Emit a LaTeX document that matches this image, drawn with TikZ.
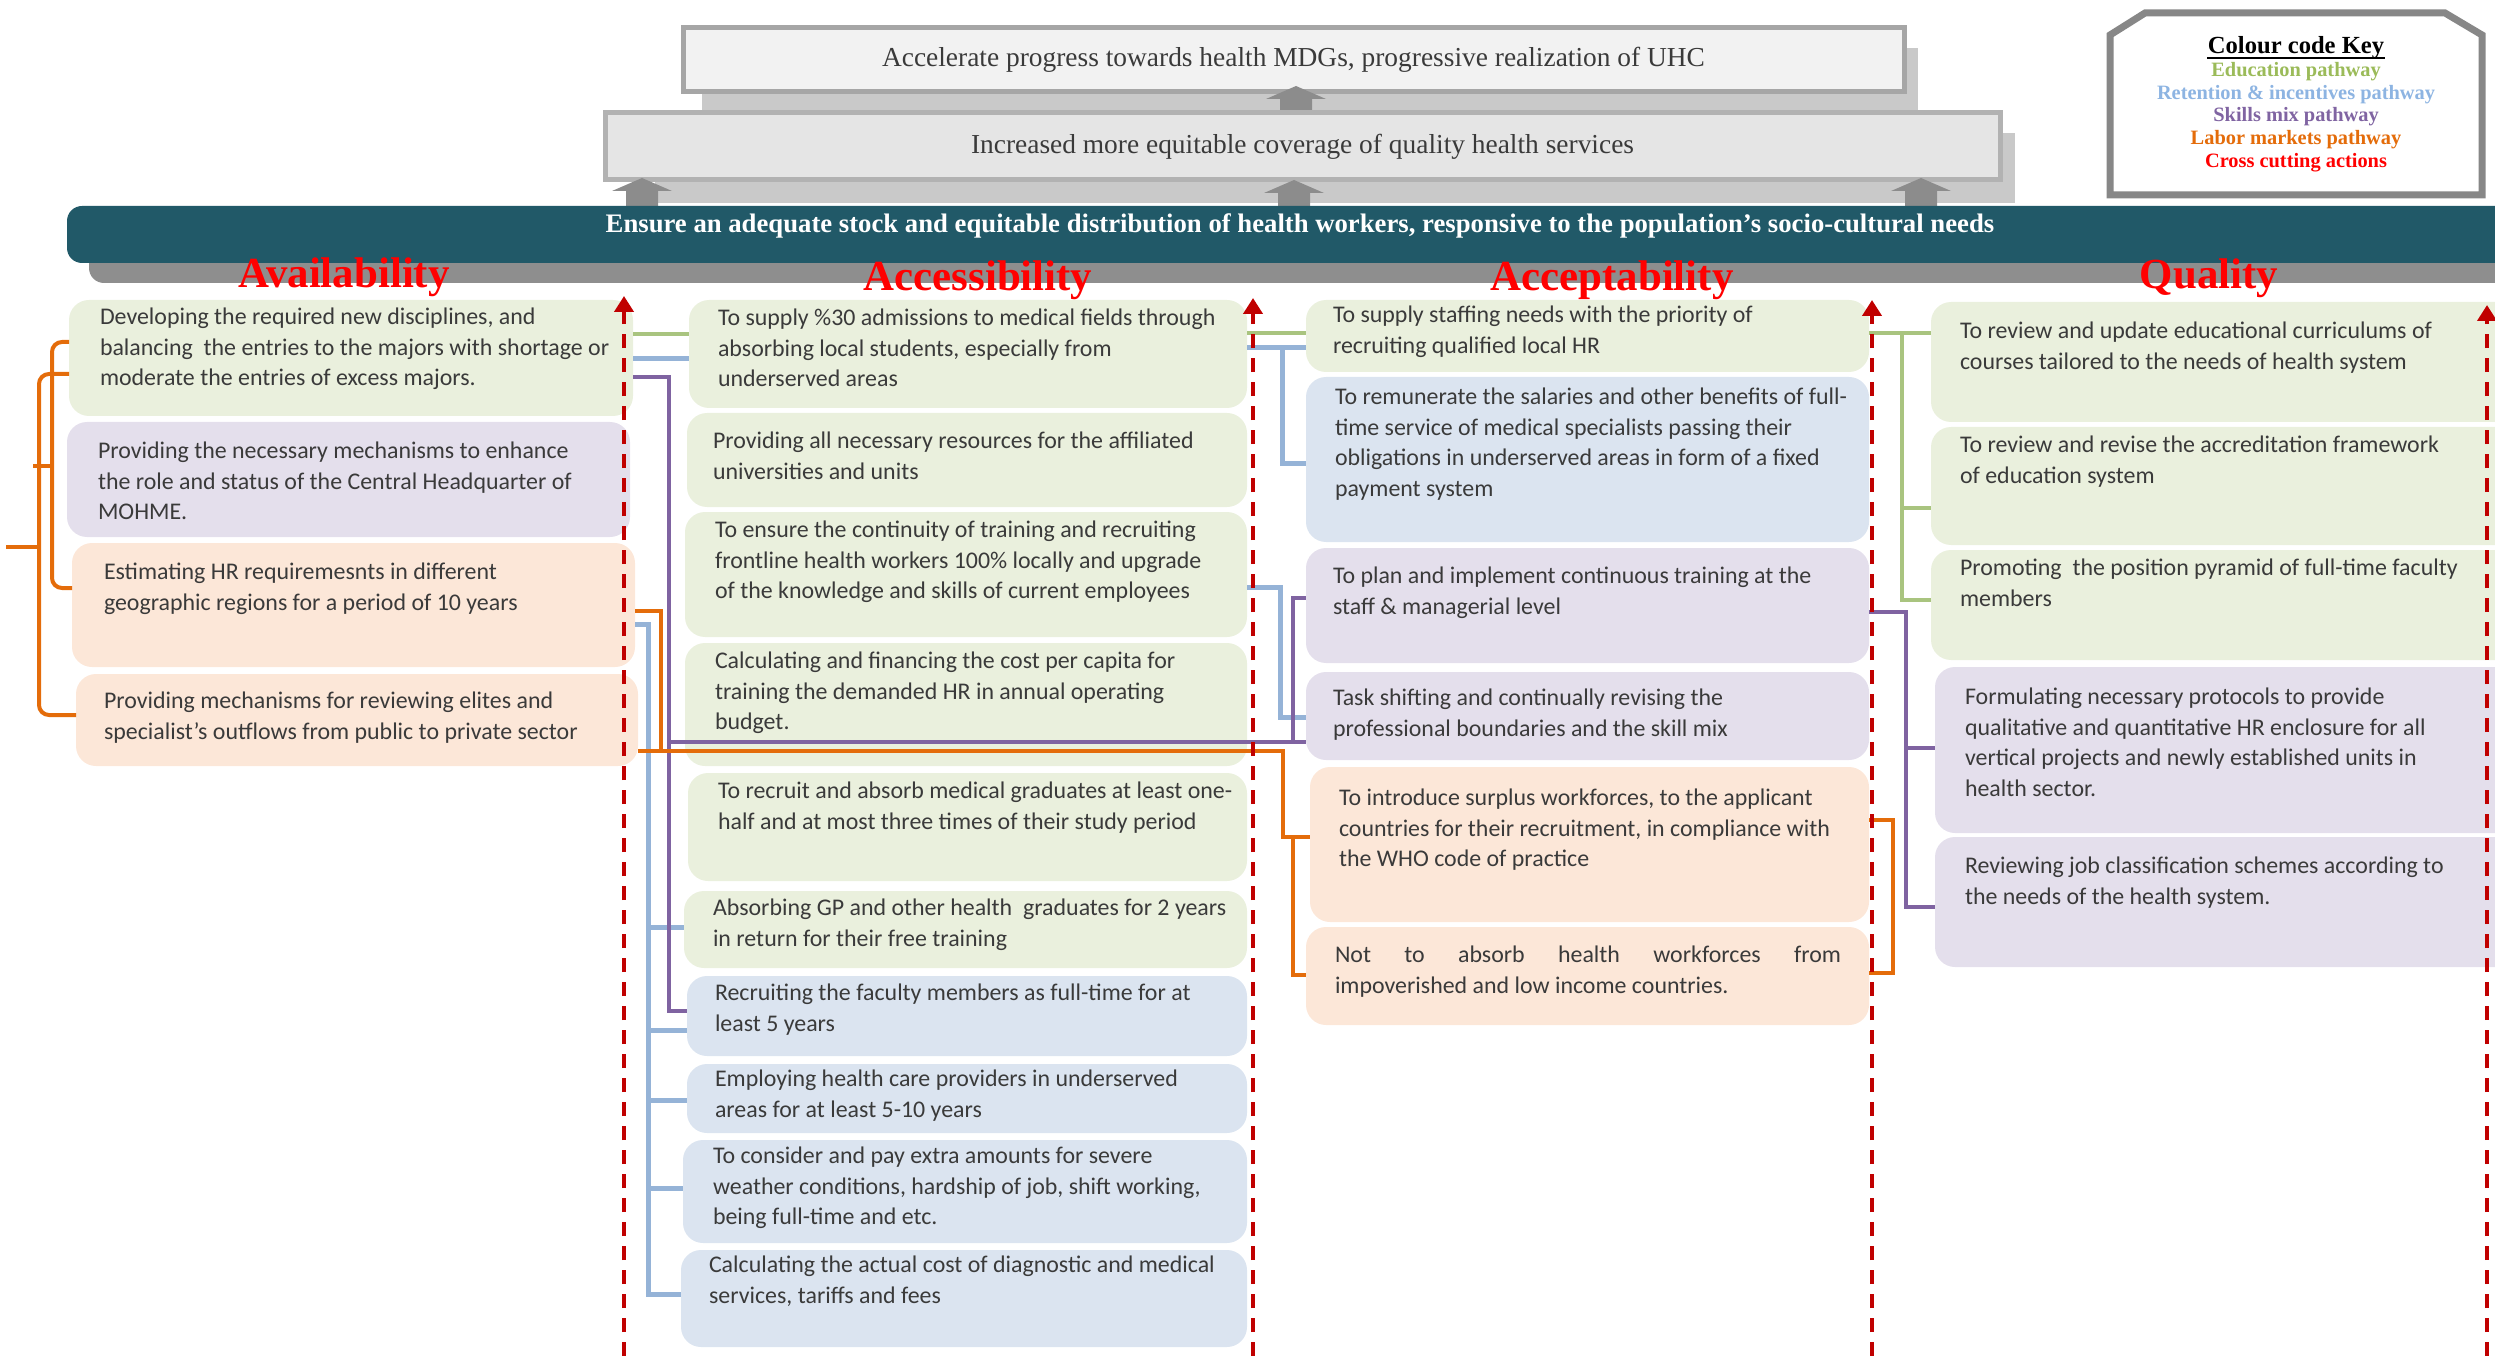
\documentclass[tikz,border=0pt]{standalone}
\usepackage{fontspec}
\setmainfont{Carlito}
\newfontfamily\srf{Liberation Serif}
\usetikzlibrary{arrows.meta}
\definecolor{tealband}{HTML}{215968}
\definecolor{bandshadow}{HTML}{8E8E8E}
\definecolor{panelc}{HTML}{C9C9C9}
\definecolor{arrowc}{HTML}{8C8C8C}
\definecolor{gfill}{HTML}{EAF0DD}
\definecolor{pfill}{HTML}{E4DFEC}
\definecolor{ofill}{HTML}{FCE7D8}
\definecolor{bfill}{HTML}{DBE4F0}
\definecolor{glinec}{HTML}{A9C47F}
\definecolor{blinec}{HTML}{95B3D7}
\definecolor{plinec}{HTML}{7F63A1}
\definecolor{olinec}{HTML}{E46C0A}
\definecolor{redd}{HTML}{C00000}
\definecolor{txtc}{HTML}{3A3A3A}
\definecolor{keyg}{HTML}{9BBB59}
\definecolor{keyb}{HTML}{8DB4E2}
\definecolor{keyp}{HTML}{8064A2}
\definecolor{keyo}{HTML}{E46C0A}
\tikzset{
  bx/.style={rectangle,rounded corners=2mm,inner sep=0pt,outer sep=0pt,anchor=north west,draw=none},
  tx/.style={anchor=north west,inner sep=0pt,outer sep=0pt,align=left,text=txtc,font=\fontsize{6.8}{8.73}\selectfont},
  con/.style={line width=0.4mm},
  gcon/.style={con,draw=glinec},
  bcon/.style={con,draw=blinec,line width=0.5mm},
  pcon/.style={con,draw=plinec},
  ocon/.style={con,draw=olinec},
  reddash/.style={draw=redd,line width=0.4mm,dash pattern=on 1.4mm off 1mm,-{Triangle[width=1.9mm,length=1.6mm]}},
  hdr/.style={text=red,font=\srf\bfseries\fontsize{12.2}{14}\selectfont,inner sep=0pt},
  keyt/.style={anchor=base,inner sep=0pt,font=\srf\bfseries\fontsize{5.8}{7}\selectfont},
  goalbox/.style={rectangle,anchor=north west,inner sep=0pt,outer sep=0pt,line width=0.5mm,text=txtc,font=\srf\fontsize{7.8}{9}\selectfont},
}
\newcommand\mybox[6]{\node[bx,fill=#6,minimum width={(#4-#2)*0.1mm},minimum height={(#5-#3)*0.1mm}] (#1) at (#2,#3) {};}
\newcommand\mytext[4]{\node[tx] (#1) at (#2,{#3-15.6}) {\rule{0pt}{6pt}#4};}
\newcommand\garr[3]{\fill[arrowc] (#1-16,#2) -- (#1-16,#3+13) -- (#1-30,#3+13) -- (#1,#3) -- (#1+30,#3+13) -- (#1+16,#3+13) -- (#1+16,#2) -- cycle;}
\begin{document}
\begin{tikzpicture}[x=0.1mm,y=-0.1mm]
\useasboundingbox (0,0) rectangle (2495,1356);
% ---------- top goals
\fill[panelc] (702,48) rectangle (1918,110);
\node[goalbox,fill=black!5,draw=black!35,minimum width=122.1mm,minimum height=6.4mm] (G1) at (683,28) {Accelerate progress towards health MDGs, progressive realization of UHC};
\fill[panelc] (655,133) rectangle (2015,203);
\garr{1296}{117}{86}
\node[goalbox,fill=black!10,draw=black!30,minimum width=139.5mm,minimum height=6.7mm] (G2) at (605,113) {Increased more equitable coverage of quality health services};
\garr{642}{206}{178}
\garr{1294}{206}{180}
\garr{1921}{206}{178}
% ---------- band
\fill[bandshadow,rounded corners=1.5mm] (89,250) rectangle (2530,283);
\node[bx,fill=tealband,rounded corners=1.5mm,minimum width=246.3mm,minimum height=5.7mm] (band) at (67,206) {};
\node[text=white,inner sep=0pt,font=\srf\bfseries\fontsize{7.6}{8}\selectfont] (bandt) at (1300,226) {Ensure an adequate stock and equitable distribution of health workers, responsive to the population’s socio-cultural needs};
% ---------- headers
\node[hdr] (h1) at (344,277) {Availability};
\node[hdr] (h2) at (978,280) {Accessibility};
\node[hdr] (h3) at (1612,280) {Acceptability};
\node[hdr] (h4) at (2209,278) {Quality};
% ---------- legend
\draw[draw=black!47,line width=0.7mm,fill=white] (2110,195) -- (2110,35) -- (2145,13) -- (2445,13) -- (2482,35) -- (2482,195) -- cycle;
\node[keyt,font=\srf\bfseries\fontsize{7}{8}\selectfont] (k0) at (2296,54) {Colour code Key};
\draw[line width=0.2mm] ([yshift=-0.45mm]k0.base west) -- ([yshift=-0.45mm]k0.base east);
\node[keyt,text=keyg] (k1) at (2296,77) {Education pathway};
\node[keyt,text=keyb] (k2) at (2296,100) {Retention \& incentives pathway};
\node[keyt,text=keyp] (k3) at (2296,122) {Skills mix pathway};
\node[keyt,text=keyo] (k4) at (2296,145) {Labor markets pathway};
\node[keyt,text=red] (k5) at (2296,168) {Cross cutting actions};
% ---------- boxes
\mybox{A1}{69}{300}{633}{416}{gfill}
\mybox{A2}{67}{422}{630}{537}{pfill}
\mybox{A3}{72}{543}{635}{667}{ofill}
\mybox{A4}{76}{674}{638}{766}{ofill}
\mybox{B1}{689}{300}{1247}{408}{gfill}
\mybox{B2}{687}{413}{1247}{507}{gfill}
\mybox{B3}{685}{512}{1247}{637}{gfill}
\mybox{B4}{685}{643}{1247}{766}{gfill}
\mybox{B5}{688}{773}{1247}{881}{gfill}
\mybox{B6}{684}{891}{1247}{968}{gfill}
\mybox{B7}{687}{976}{1247}{1056}{bfill}
\mybox{B8}{687}{1064}{1247}{1133}{bfill}
\mybox{B9}{683}{1140}{1247}{1243}{bfill}
\mybox{B10}{681}{1250}{1247}{1347}{bfill}
\mybox{C1}{1306}{300}{1869}{372}{gfill}
\mybox{C2}{1306}{377}{1869}{542}{bfill}
\mybox{C3}{1306}{548}{1869}{663}{pfill}
\mybox{C4}{1306}{672}{1869}{760}{pfill}
\mybox{C5}{1310}{767}{1869}{922}{ofill}
\mybox{C6}{1306}{927}{1869}{1025}{ofill}
\mybox{D1}{1931}{302}{2520}{422}{gfill}
\mybox{D2}{1931}{427}{2520}{545}{gfill}
\mybox{D3}{1931}{550}{2520}{660}{gfill}
\mybox{D4}{1935}{667}{2520}{833}{pfill}
\mybox{D5}{1935}{837}{2520}{967}{pfill}
% ---------- texts
\mytext{tA1}{100}{319}{Developing the required new disciplines, and\\balancing\ \ the entries to the majors with shortage or\\moderate the entries of excess majors.}
\mytext{tA2}{98}{453}{Providing the necessary mechanisms to enhance\\the role and status of the Central Headquarter of\\MOHME.}
\mytext{tA3}{104}{574}{Estimating HR requiremesnts in different\\geographic regions for a period of 10 years}
\mytext{tA4}{104}{703}{Providing mechanisms for reviewing elites and\\specialist’s outflows from public to private sector}
\mytext{tB1}{718}{320}{To supply \%30 admissions to medical fields through\\absorbing local students, especially from\\underserved areas}
\mytext{tB2}{713}{443}{Providing all necessary resources for the affiliated\\universities and units}
\mytext{tB3}{715}{532}{To ensure the continuity of training and recruiting\\frontline health workers 100\% locally and upgrade\\of the knowledge and skills of current employees}
\mytext{tB4}{715}{663}{Calculating and financing the cost per capita for\\training the demanded HR in annual operating\\budget.}
\mytext{tB5}{718}{793}{To recruit and absorb medical graduates at least one-\\half and at most three times of their study period}
\mytext{tB6}{713}{910}{Absorbing GP and other health\ \ graduates for 2 years\\in return for their free training}
\mytext{tB7}{715}{995}{Recruiting the faculty members as full-time for at\\least 5 years}
\mytext{tB8}{715}{1081}{Employing health care providers in underserved\\areas for at least 5-10 years}
\mytext{tB9}{713}{1158}{To consider and pay extra amounts for severe\\weather conditions, hardship of job, shift working,\\being full-time and etc.}
\mytext{tB10}{709}{1267}{Calculating the actual cost of diagnostic and medical\\services, tariffs and fees}
\mytext{tC1}{1333}{317}{To supply staffing needs with the priority of\\recruiting qualified local HR}
\mytext{tC2}{1335}{399}{To remunerate the salaries and other benefits of full-\\time service of medical specialists passing their\\obligations in underserved areas in form of a fixed\\payment system}
\mytext{tC3}{1333}{578}{To plan and implement continuous training at the\\staff \& managerial level}
\mytext{tC4}{1333}{700}{Task shifting and continually revising the\\professional boundaries and the skill mix}
\mytext{tC5}{1339}{800}{To introduce surplus workforces, to the applicant\\countries for their recruitment, in compliance with\\the WHO code of practice}
\mytext{tC6}{1335}{957}{\makebox[50.6mm][s]{Not to absorb health workforces from}\\impoverished and low income countries.}
\mytext{tD1}{1960}{333}{To review and update educational curriculums of\\courses tailored to the needs of health system}
\mytext{tD2}{1960}{447}{To review and revise the accreditation framework\\of education system}
\mytext{tD3}{1960}{570}{Promoting\ \ the position pyramid of full-time faculty\\members}
\mytext{tD4}{1965}{699}{Formulating necessary protocols to provide\\qualitative and quantitative HR enclosure for all\\vertical projects and newly established units in\\health sector.}
\mytext{tD5}{1965}{868}{Reviewing job classification schemes according to\\the needs of the health system.}
% ---------- connectors: education (green)
\draw[gcon] (A1.east |- 0,334) -- (B1.west |- 0,334);
\draw[gcon] (B1.east |- 0,333) -- (C1.west |- 0,333);
\draw[gcon] (C1.east |- 0,333) -- (D1.west |- 0,333);
\draw[gcon] (1902,333) -- (1902,600) -- (D3.west |- 0,600);
\draw[gcon] (1902,508) -- (D2.west |- 0,508);
% retention (blue)
\draw[bcon] (A1.east |- 0,359) -- (B1.west |- 0,359);
\draw[bcon] (B1.east |- 0,348) -- (C1.west |- 0,348);
\draw[bcon] (1282,348) -- (1282,463) -- (C2.west |- 0,463);
\draw[bcon] (B3.east |- 0,587) -- (1280,587) -- (1280,717) -- (C4.west |- 0,717);
\draw[bcon] (A3.east |- 0,624) -- (648,624) -- (648,1294) -- (B10.west |- 0,1294);
\foreach \n/\yy in {B6/927,B7/1030,B8/1100,B9/1188} \draw[bcon] (648,\yy) -- (\n.west |- 0,\yy);
% skills mix (purple)
\draw[pcon] (A1.east |- 0,377) -- (669,377) -- (669,1011) -- (B7.west |- 0,1011);
\draw[pcon] (669,742) -- (C4.west |- 0,742);
\draw[pcon] (1293,742) -- (1293,598) -- (C3.west |- 0,598);
\draw[pcon] (C3.east |- 0,612) -- (1906,612) -- (1906,907) -- (D5.west |- 0,907);
\draw[pcon] (1906,748) -- (D4.west |- 0,748);
% labor markets (orange)
\draw[ocon] (A3.east |- 0,611) -- (661,611) -- (661,751);
\draw[ocon] (A4.east |- 0,751) -- (1283,751) -- (1283,837) -- (C5.west |- 0,837);
\draw[ocon] (1293,837) -- (1293,975) -- (C6.west |- 0,975);
\draw[ocon] (C5.east |- 0,820) -- (1893,820) -- (1893,973) -- (C6.east |- 0,973);
\draw[ocon,rounded corners=1mm] (A1.west |- 0,342) -- (52,342) -- (52,588) -- (A3.west |- 0,588);
\draw[ocon] (52,466) -- (33,466);
\draw[ocon,rounded corners=1mm] (A1.west |- 0,374) -- (39,374) -- (39,715) -- (A4.west |- 0,715);
\draw[ocon] (39,547) -- (6,547);
% ---------- cross-cutting dashed arrows
\coordinate (dAt) at (624,296); \coordinate (dAb) at (624,1356);
\coordinate (dBt) at (1253,298); \coordinate (dBb) at (1253,1356);
\coordinate (dCt) at (1872,300); \coordinate (dCb) at (1872,1356);
\coordinate (dDt) at (2487,305); \coordinate (dDb) at (2487,1356);
\draw[reddash] (dAb) -- (dAt);
\draw[reddash] (dBb) -- (dBt);
\draw[reddash] (dCb) -- (dCt);
\draw[reddash] (dDb) -- (dDt);
\end{tikzpicture}
\end{document}
